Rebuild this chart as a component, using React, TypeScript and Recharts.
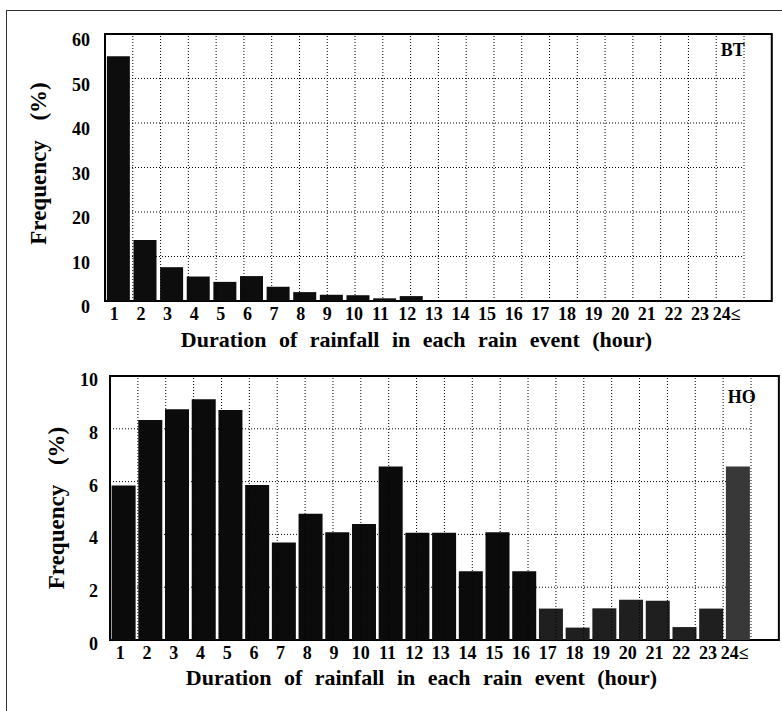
import React from 'react';
import { BarChart, Bar, XAxis, YAxis, CartesianGrid, ReferenceArea, ReferenceLine, Label, Cell } from 'recharts';

const categories = ['1','2','3','4','5','6','7','8','9','10','11','12','13','14','15','16','17','18','19','20','21','22','23','24≤'];
const btValues = [55, 13.7, 7.6, 5.5, 4.3, 5.6, 3.2, 2.0, 1.4, 1.3, 0.6, 1.1, 0, 0, 0, 0, 0, 0.2, 0, 0, 0, 0, 0, 0];
const hoValues = [5.85, 8.33, 8.74, 9.12, 8.71, 5.87, 3.69, 4.78, 4.08, 4.39, 6.57, 4.06, 4.06, 2.6, 4.08, 2.6, 1.19, 0.47, 1.2, 1.52, 1.49, 0.49, 1.19, 6.57];
const btTicks = [0, 10, 20, 30, 40, 50, 60];
const btMinor = [0, 2, 4, 6, 8, 10, 12, 14, 16, 18, 20, 22, 24, 26, 28, 30, 32, 34, 36, 38, 40, 42, 44, 46, 48, 50, 52, 54, 56, 58, 60];
const hoTicks = [0, 2, 4, 6, 8, 10];
const hoMinor = [0, 1, 2, 3, 4, 5, 6, 7, 8, 9, 10];
const boundaryTicks = [1, 2, 3, 4, 5, 6, 7, 8, 9, 10, 11, 12, 13, 14, 15, 16, 17, 18, 19, 20, 21, 22, 23];
const xTitle = 'Duration of rainfall in each rain event (hour)';
const yTitle = 'Frequency (%)';

const btData = categories.map((c, i) => ({ cat: c, v: btValues[i] }));
const hoData = categories.map((c, i) => ({ cat: c, v: hoValues[i] }));

const hoFill = (i: number) => (i === 23 ? '#383838' : i >= 16 ? '#1f1f1f' : '#0b0b0b');

const serif = { fontFamily: "'Liberation Serif', 'Times New Roman', Times, serif", fontWeight: 700 } as const;

const XTick = (props: any) => {
  const { x, y, payload, shift } = props;
  return (
    <text x={x + shift} y={y + 19} textAnchor="middle" fontSize={18} fill="#000" style={serif}>
      {payload.value}
    </text>
  );
};

const YTick = (props: any) => {
  const { x, y, payload, shift } = props;
  return (
    <text x={x} y={y + shift} textAnchor="end" fontSize={18} fill="#000" style={serif}>
      {payload.value}
    </text>
  );
};

const makeXLabel = (dx: number, dy: number) => (props: any) => {
  const vb = props.viewBox;
  return (
    <text x={vb.x + vb.width / 2 + dx} y={vb.y + dy} textAnchor="middle" fontSize={22} fill="#000" style={{ ...serif, wordSpacing: '7px' }}>
      {xTitle}
    </text>
  );
};

const makeYLabel = (bx: number, dy: number) => (props: any) => {
  const vb = props.viewBox;
  const cx = vb.x + bx;
  const cy = vb.y + vb.height / 2 + dy;
  return (
    <text x={cx} y={cy} transform={`rotate(-90 ${cx} ${cy})`} textAnchor="middle" fontSize={23} fill="#000" style={{ ...serif, wordSpacing: '14px' }}>
      {yTitle}
    </text>
  );
};

const makeTag = (text: string, rightGap: number, top: number) => (props: any) => {
  const vb = props.viewBox;
  return (
    <text x={vb.x + vb.width - rightGap} y={vb.y + top} textAnchor="end" fontSize={18} fill="#000" style={serif}>
      {text}
    </text>
  );
};

const gridLines = boundaryTicks.map((k) => (
  <ReferenceLine key={`g${k}`} xAxisId="g" x={k} stroke="#000" strokeDasharray="1 2" strokeWidth={1} />
));

const TopChart = () => (
  <BarChart width={782} height={360} data={btData} margin={{ top: 34, right: 38, bottom: 29, left: 0 }} barCategoryGap="7%">
    <CartesianGrid vertical={false} stroke="#000" strokeDasharray="1 2" strokeWidth={1} />
    <XAxis dataKey="cat" interval={0} tickLine={false} axisLine={false} tickSize={0} tickMargin={0} height={30} tick={(p: any) => <XTick {...p} shift={-4} />}>
      <Label content={makeXLabel(-8, 46)} />
    </XAxis>
    <XAxis xAxisId="g" type="number" domain={[0, 24]} ticks={boundaryTicks} hide allowDataOverflow />
    <YAxis width={105} domain={[0, 60]} ticks={btTicks} tickLine={false} axisLine={false} tickSize={0} tickMargin={15} tick={(p: any) => <YTick {...p} shift={12} />}>
      <Label content={makeYLabel(46, -4)} />
    </YAxis>
    <YAxis yAxisId="r" orientation="right" mirror domain={[0, 60]} ticks={btMinor} tickSize={4} tickFormatter={() => ''} axisLine={false} stroke="#000" />
    {gridLines}
    <Bar dataKey="v" fill="#0d0d0d" isAnimationActive={false} />
    <ReferenceArea xAxisId="g" x1={0} x2={24} y1={0} y2={60} fill="none" fillOpacity={0} stroke="#000" strokeWidth={2} ifOverflow="visible" label={makeTag('BT', 27, 22)} />
  </BarChart>
);

const BottomChart = () => (
  <BarChart width={782} height={351} data={hoData} margin={{ top: 16, right: 31, bottom: 41, left: 0 }} barCategoryGap="6%">
    <CartesianGrid vertical={false} stroke="#000" strokeDasharray="1 2" strokeWidth={1} />
    <XAxis dataKey="cat" interval={0} tickLine={false} axisLine={false} tickSize={0} tickMargin={0} height={30} tick={(p: any) => <XTick {...p} shift={-3} />}>
      <Label content={makeXLabel(-9, 45)} />
    </XAxis>
    <XAxis xAxisId="g" type="number" domain={[0, 24]} ticks={boundaryTicks} hide allowDataOverflow />
    <YAxis width={110} domain={[0, 10]} ticks={hoTicks} tickLine={false} axisLine={false} tickSize={0} tickMargin={12} tick={(p: any) => <YTick {...p} shift={10} />}>
      <Label content={makeYLabel(64, 0)} />
    </YAxis>
    <YAxis yAxisId="r" orientation="right" mirror domain={[0, 10]} ticks={hoMinor} tickSize={4} tickFormatter={() => ''} axisLine={false} stroke="#000" />
    {gridLines}
    <Bar dataKey="v" isAnimationActive={false}>
      {hoData.map((d, i) => (
        <Cell key={d.cat} fill={hoFill(i)} />
      ))}
    </Bar>
    <ReferenceArea xAxisId="g" x1={0} x2={24} y1={0} y2={10} fill="none" fillOpacity={0} stroke="#000" strokeWidth={2} ifOverflow="visible" label={makeTag('HO', 23, 27)} />
  </BarChart>
);

export default function App() {
  return (
    <div style={{ position: 'absolute', left: 0, top: 0, width: 782, height: 711, background: '#fff', overflow: 'hidden' }}>
      <div style={{ position: 'absolute', left: 6, top: 10, width: 800, height: 760, borderLeft: '1.5px solid #333', borderTop: '1.5px solid #333' }} />
      <div style={{ position: 'absolute', left: 0, top: 0 }}>
        <TopChart />
      </div>
      <div style={{ position: 'absolute', left: 0, top: 360 }}>
        <BottomChart />
      </div>
    </div>
  );
}
